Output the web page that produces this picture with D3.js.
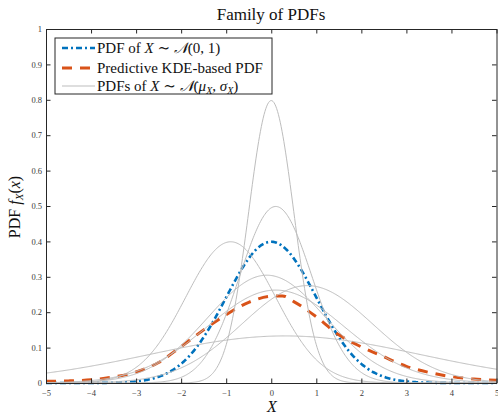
<!DOCTYPE html>
<html>
<head>
<meta charset="utf-8">
<script src="https://cdn.jsdelivr.net/npm/d3@7"></script>
<style>
  body { margin: 0; background: #fff; }
  svg text { font-family: "Liberation Serif", "DejaVu Serif", serif; }
</style>
</head>
<body>
<svg id="chart" width="498" height="417"></svg>
<script>
// ticks
var xTicks = [-5, -4, -3, -2, -1, 0, 1, 2, 3, 4, 5];
var yTicks = [0, 0.1, 0.2, 0.3, 0.4, 0.5, 0.6, 0.7, 0.8, 0.9, 1];

// reference pdf N(0,1)
var refMu = 0, refSigma = 1;

// family of normal pdfs, parameters
var familyMu    = [0,   0.1, -0.9, -0.1, 0.1,  0.8,  0.3];
var familySigma = [0.5, 0.8,  1.0, 1.31, 1.52, 1.45, 3.0];

// predictive KDE-based pdf
var kdeX = [-5, -4.5, -4, -3.5, -3, -2.5, -2, -1.5, -1, -0.5, 0, 0.25, 0.5, 1, 1.5, 2, 2.5, 3, 3.5, 4, 4.5, 5];
var kdeY = [0.005, 0.006, 0.009, 0.017, 0.031, 0.058, 0.103, 0.15, 0.193, 0.228, 0.245, 0.246, 0.23, 0.187, 0.136, 0.102, 0.074, 0.047, 0.03, 0.018, 0.011, 0.008];

var svg = d3.select("#chart");
var pLeft = 46, pRight = 496.5, pTop = 29, pBottom = 383;
var axisColor = "#262626";
var serif = "'Liberation Serif', 'DejaVu Serif', serif";

var x = d3.scaleLinear().domain([-5, 5]).range([pLeft, pRight]);
var y = d3.scaleLinear().domain([0, 1]).range([pBottom, pTop]);

function normpdf(v, mu, s) {
    return Math.exp(-0.5 * Math.pow((v - mu) / s, 2)) / (s * Math.sqrt(2 * Math.PI));
}

var grid = d3.range(-5, 5.0001, 0.02);
function pdfPoints(mu, s) {
    return grid.map(function(v) { return [v, normpdf(v, mu, s)]; });
}

var line = d3.line().x(function(d) { return x(d[0]); }).y(function(d) { return y(d[1]); });
var smooth = d3.line().curve(d3.curveMonotoneX)
    .x(function(d) { return x(d[0]); }).y(function(d) { return y(d[1]); });

// curves
svg.append("path")
    .attr("d", line(pdfPoints(refMu, refSigma)))
    .attr("fill", "none").attr("stroke", "#0072BD")
    .attr("stroke-width", 2.6).attr("stroke-dasharray", "6,3,2,3");

svg.append("path")
    .attr("d", smooth(kdeX.map(function(v, i) { return [v, kdeY[i]]; })))
    .attr("fill", "none").attr("stroke", "#D95319")
    .attr("stroke-width", 3).attr("stroke-dasharray", "10,8");

svg.selectAll(".fam").data(familyMu).enter().append("path")
    .attr("class", "fam")
    .attr("d", function(m, i) { return line(pdfPoints(m, familySigma[i])); })
    .attr("fill", "none").attr("stroke", "#bdbdbd").attr("stroke-width", 1);

// axes (ticks point inward, box on)
var gx = svg.append("g").attr("transform", "translate(0," + pBottom + ")")
    .call(d3.axisBottom(x).tickValues(xTicks).tickSizeInner(-4.5).tickSizeOuter(0).tickPadding(7));
var gy = svg.append("g").attr("transform", "translate(" + pLeft + ",0)")
    .call(d3.axisLeft(y).tickValues(yTicks).tickSizeInner(-4.5).tickSizeOuter(0).tickPadding(4)
        .tickFormat(function(d) { return d === 0 || d === 1 ? d : d3.format(".1f")(d); }));
var gt = svg.append("g").attr("transform", "translate(0," + pTop + ")")
    .call(d3.axisTop(x).tickValues(xTicks).tickSizeInner(-4.5).tickSizeOuter(0).tickFormat(""));
var gr = svg.append("g").attr("transform", "translate(" + pRight + ",0)")
    .call(d3.axisRight(y).tickValues(yTicks).tickSizeInner(-4.5).tickSizeOuter(0).tickFormat(""));

[gx, gy, gt, gr].forEach(function(g) {
    g.selectAll("path, line").attr("stroke", axisColor);
    g.selectAll("text").attr("fill", "#3a3a3a").style("font-size", "8.5px")
        .style("font-family", serif);
});

// title and labels
svg.append("text").attr("x", 271).attr("y", 20).attr("text-anchor", "middle")
    .style("font-family", serif).style("font-size", "17px").attr("fill", "#111").text("Family of PDFs");

svg.append("text").attr("x", 272).attr("y", 412).attr("text-anchor", "middle")
    .style("font-family", serif).style("font-size", "16px").style("font-style", "italic")
    .attr("fill", "#111").text("X");

var yl = svg.append("text").attr("transform", "translate(20,207) rotate(-90)")
    .attr("text-anchor", "middle").style("font-family", serif).style("font-size", "16px").attr("fill", "#111");
yl.append("tspan").text("PDF ");
yl.append("tspan").style("font-style", "italic").text("f");
yl.append("tspan").style("font-style", "italic").style("font-size", "11px").attr("dy", 3).text("X");
yl.append("tspan").attr("dy", -3).text("(");
yl.append("tspan").style("font-style", "italic").text("x");
yl.append("tspan").text(")");

// legend
var lg = svg.append("g");
lg.append("rect").attr("x", 55).attr("y", 38).attr("width", 217).attr("height", 56)
    .attr("fill", "#fff").attr("stroke", axisColor).attr("stroke-width", 1);

var rows = [
    { y: 48, color: "#0072BD", w: 2.6, dash: "6,3,2,3" },
    { y: 68, color: "#D95319", w: 3, dash: "10,8" },
    { y: 86, color: "#bdbdbd", w: 1, dash: null }
];
rows.forEach(function(r) {
    lg.append("line").attr("x1", 62).attr("x2", 95).attr("y1", r.y).attr("y2", r.y)
        .attr("stroke", r.color).attr("stroke-width", r.w).attr("stroke-dasharray", r.dash);
});

function legendText(yy) {
    return lg.append("text").attr("x", 97).attr("y", yy + 5)
        .style("font-family", serif).style("font-size", "15px").attr("fill", "#111");
}
var t1 = legendText(48);
t1.append("tspan").text("PDF of ");
t1.append("tspan").style("font-style", "italic").text("X");
t1.append("tspan").text(" \u223C ");
t1.append("tspan").style("font-style", "italic").text("\uD835\uDCA9");
t1.append("tspan").text("(0, 1)");

legendText(68).text("Predictive KDE-based PDF");

var t3 = legendText(86);
t3.append("tspan").text("PDFs of ");
t3.append("tspan").style("font-style", "italic").text("X");
t3.append("tspan").text(" \u223C ");
t3.append("tspan").style("font-style", "italic").text("\uD835\uDCA9");
t3.append("tspan").text("(");
t3.append("tspan").style("font-style", "italic").text("\u03BC");
t3.append("tspan").style("font-style", "italic").style("font-size", "10px").attr("dy", 3).text("X");
t3.append("tspan").attr("dy", -3).text(", ");
t3.append("tspan").style("font-style", "italic").text("\u03C3");
t3.append("tspan").style("font-style", "italic").style("font-size", "10px").attr("dy", 3).text("X");
t3.append("tspan").attr("dy", -3).text(")");
</script>
</body>
</html>
